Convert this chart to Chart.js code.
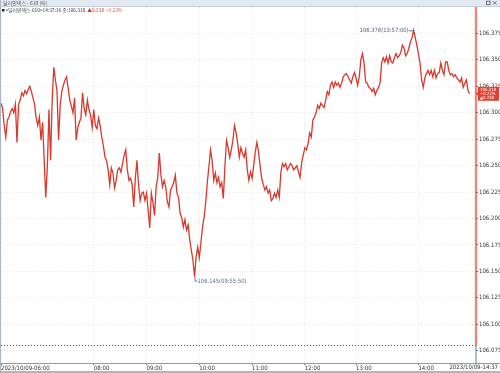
<!DOCTYPE html>
<html>
<head>
<meta charset="utf-8">
<script src="https://cdn.jsdelivr.net/npm/chart.js@4.4.1/dist/chart.umd.min.js"></script>
<style>
    html, body { margin: 0; padding: 0; background: #fff; }
    #wrap { position: relative; width: 500px; height: 373px; }
</style>
</head>
<body>
<div id="wrap"><canvas id="tickChart" width="500" height="373"></canvas></div>
<script>
// 달러인덱스 tick prices, one array per hour block
const seg0600 = [106.309, 106.304, 106.288, 106.277, 106.293, 106.296, 106.301, 106.304, 106.300, 106.308,
    106.272, 106.308, 106.312, 106.319, 106.316, 106.321, 106.318, 106.322, 106.325, 106.320,
    106.314, 106.308, 106.295, 106.288, 106.296, 106.274, 106.291, 106.255, 106.220, 106.250,
    106.303, 106.255, 106.312, 106.343, 106.331, 106.321, 106.274, 106.307, 106.320, 106.326,
    106.331, 106.334, 106.323, 106.312, 106.306, 106.300, 106.314, 106.274, 106.286, 106.291,
    106.295, 106.319, 106.304, 106.298, 106.312, 106.303, 106.298, 106.286];
const seg0800 = [106.303, 106.288, 106.285, 106.295, 106.288, 106.277, 106.269, 106.258, 106.255, 106.246,
    106.232, 106.248, 106.243, 106.229, 106.236, 106.246, 106.248, 106.244, 106.252, 106.260,
    106.265, 106.246, 106.236, 106.238, 106.232, 106.211, 106.238, 106.255, 106.232, 106.217,
    106.224, 106.225, 106.217];
const seg0900 = [106.224, 106.208, 106.191, 106.224, 106.215, 106.203, 106.230, 106.239, 106.262, 106.241,
    106.230, 106.236, 106.230, 106.216, 106.211, 106.227, 106.230, 106.234, 106.241, 106.224,
    106.220, 106.205, 106.201, 106.192, 106.199, 106.189, 106.194, 106.180, 106.170, 106.161,
    106.145, 106.164, 106.173];
const seg1000 = [106.163, 106.177, 106.192, 106.201, 106.215, 106.234, 106.249, 106.265, 106.255, 106.236,
    106.243, 106.234, 106.239, 106.230, 106.234, 106.219, 106.249, 106.274, 106.267, 106.258,
    106.265, 106.274, 106.288, 106.281, 106.271, 106.258, 106.267, 106.262, 106.258, 106.265,
    106.246, 106.236, 106.244];
const seg1100 = [106.238, 106.250, 106.263, 106.272, 106.263, 106.250, 106.238, 106.232, 106.227, 106.230,
    106.224, 106.227, 106.217, 106.219, 106.224, 106.220, 106.227, 106.220, 106.244, 106.252,
    106.249, 106.252, 106.246, 106.249, 106.252, 106.250, 106.246, 106.248, 106.250, 106.244,
    106.239, 106.253, 106.260];
const seg1200 = [106.267, 106.265, 106.271, 106.281, 106.277, 106.293, 106.296, 106.300, 106.307, 106.304,
    106.309, 106.307, 106.305, 106.312, 106.320, 106.317, 106.326, 106.329, 106.324, 106.329,
    106.326, 106.328, 106.324, 106.328, 106.334, 106.336, 106.337, 106.334, 106.331, 106.328,
    106.334, 106.338];
const seg1300 = [106.333, 106.326, 106.334, 106.350, 106.356, 106.347, 106.329, 106.328, 106.324, 106.323,
    106.320, 106.323, 106.317, 106.321, 106.324, 106.328, 106.347, 106.352, 106.348, 106.353,
    106.347, 106.354, 106.348, 106.347, 106.352, 106.356, 106.352, 106.354, 106.357, 106.364,
    106.361, 106.354, 106.356, 106.361, 106.367, 106.371, 106.378, 106.371, 106.364];
const seg1400 = [106.356, 106.347, 106.331, 106.324, 106.333, 106.337, 106.340, 106.336, 106.340, 106.334,
    106.340, 106.333, 106.337, 106.338, 106.347, 106.340, 106.336, 106.348, 106.348, 106.340,
    106.336, 106.337, 106.334, 106.336, 106.333, 106.331, 106.329, 106.333, 106.324, 106.328,
    106.331, 106.321, 106.318];

const hourLabels = ['2023/10/09-06:00', '08:00', '09:00', '10:00', '11:00', '12:00', '13:00', '14:00'];
const endLabel = '2023/10/09-14:37';
const yTicks = [106.075, 106.100, 106.125, 106.150, 106.175, 106.200, 106.225,
    106.250, 106.275, 106.300, 106.325, 106.350, 106.375];

const seriesName = '달러인덱스-610';
const windowTitle = '달러인덱스 - 610 (틱)';
const lastTime = '14:37:16';
const prevClose = 106.080;
const maxTime = '13:57:00';
const minTime = '09:55:50';

const segments = [seg0600, seg0800, seg0900, seg1000, seg1100, seg1200, seg1300, seg1400];
const prices = segments.flat();
const hourIdx = [];
segments.reduce((start, seg) => { hourIdx.push(start); return start + seg.length; }, 0);

const lastPrice = prices[prices.length - 1];
const change = lastPrice - prevClose;
const changePct = change / prevClose * 100;

const numFont = "'Liberation Sans Narrow', 'DejaVu Sans Condensed', 'Liberation Sans', sans-serif";
const krFont = "'Noto Sans CJK KR', 'Noto Sans', sans-serif";
const lineRed = '#d8392b';

Chart.defaults.font.family = numFont;
Chart.defaults.font.size = 6;
Chart.defaults.color = '#333';

// frame, annotations and header texts
const decor = {
    id: 'decor',
    beforeDraw(chart) {
        const { ctx, width, height } = chart;
        ctx.save();
        ctx.fillStyle = '#fff';
        ctx.fillRect(0, 0, width, height);
        ctx.restore();
    },
    afterDatasetsDraw(chart) {
        const { ctx, chartArea: a, scales: { x, y } } = chart;
        ctx.save();

        // previous close dotted line
        const yp = Math.round(y.getPixelForValue(prevClose)) + 0.5;
        ctx.strokeStyle = '#555';
        ctx.lineWidth = 1;
        ctx.setLineDash([1, 2]);
        ctx.beginPath(); ctx.moveTo(a.left, yp); ctx.lineTo(a.right, yp); ctx.stroke();
        ctx.setLineDash([]);

        // current time line
        ctx.strokeStyle = 'rgba(220, 70, 60, 0.25)';
        ctx.lineWidth = 3;
        ctx.beginPath(); ctx.moveTo(a.right, a.top); ctx.lineTo(a.right, yp); ctx.stroke();
        ctx.strokeStyle = '#d2402f';
        ctx.lineWidth = 1;
        ctx.beginPath(); ctx.moveTo(a.right, a.top); ctx.lineTo(a.right, yp); ctx.stroke();
        ctx.strokeStyle = '#5d7fa8';
        ctx.beginPath(); ctx.moveTo(a.right, yp); ctx.lineTo(a.right, a.bottom); ctx.stroke();

        // max / min labels
        const iMax = prices.indexOf(Math.max(...prices));
        const iMin = prices.indexOf(Math.min(...prices));
        const mx = x.getPixelForValue(iMax), my = y.getPixelForValue(prices[iMax]);
        const nx = x.getPixelForValue(iMin), ny = y.getPixelForValue(prices[iMin]);
        ctx.font = '5.8px ' + numFont;
        ctx.textBaseline = 'middle';

        ctx.strokeStyle = '#6a7388';
        ctx.beginPath(); ctx.moveTo(mx - 5, my + 0.5); ctx.lineTo(mx, my + 0.5); ctx.stroke();
        ctx.fillStyle = '#5c6275';
        ctx.textAlign = 'right';
        ctx.fillText(prices[iMax].toFixed(3) + '(' + maxTime + ')', mx - 5, my + 0.5);

        ctx.strokeStyle = '#6a7ca0';
        ctx.beginPath(); ctx.moveTo(nx + 0.5, ny); ctx.lineTo(nx + 0.5, ny + 4.5); ctx.lineTo(nx + 3, ny + 4.5); ctx.stroke();
        ctx.fillStyle = '#5f7196';
        ctx.textAlign = 'left';
        ctx.fillText(prices[iMin].toFixed(3) + '(' + minTime + ')', nx + 3, ny + 4.5);

        // current price box on the axis
        const py = y.getPixelForValue(lastPrice);
        ctx.fillStyle = '#e0402e';
        ctx.beginPath();
        ctx.moveTo(a.right, py);
        ctx.lineTo(a.right + 2, py - 2);
        ctx.lineTo(a.right + 2, py - 7);
        ctx.lineTo(499, py - 7);
        ctx.lineTo(499, py + 7);
        ctx.lineTo(a.right + 2, py + 7);
        ctx.lineTo(a.right + 2, py + 2);
        ctx.closePath();
        ctx.fill();
        ctx.fillStyle = '#fff';
        ctx.font = '4.3px ' + numFont;
        ctx.textAlign = 'left';
        ctx.fillText(lastPrice.toFixed(3), a.right + 4, py - 4);
        ctx.fillText('+' + changePct.toFixed(2) + '%', a.right + 4, py);
        ctx.fillText('▲' + change.toFixed(3), a.right + 4, py + 4);
        ctx.restore();
    },
    afterDraw(chart) {
        const { ctx, width, height, chartArea: a } = chart;
        ctx.save();

        // window title bar
        ctx.fillStyle = '#e3e9f0';
        ctx.fillRect(0, 0, width, 6);
        ctx.fillStyle = '#c6d0dc';
        ctx.fillRect(0, 6, width, 1);
        ctx.font = '5px ' + krFont;
        ctx.textBaseline = 'middle';
        ctx.fillStyle = '#555';
        ctx.fillText(windowTitle, 3, 3.2);
        ctx.strokeStyle = '#556';
        ctx.lineWidth = 0.8;
        ctx.strokeRect(486.5, 1.2, 3.5, 3.5);
        ctx.beginPath();
        ctx.moveTo(493, 1.2); ctx.lineTo(496.5, 4.7);
        ctx.moveTo(496.5, 1.2); ctx.lineTo(493, 4.7);
        ctx.stroke();

        // legend line
        let tx = 2;
        const ty = 10.5;
        ctx.fillStyle = '#222';
        ctx.fillRect(tx, ty - 1.5, 2.5, 2.5);
        tx += 3.5;
        const head = '<' + seriesName + '>' + lastTime + ' 종:' + lastPrice.toFixed(3);
        ctx.font = '4.8px ' + krFont;
        ctx.fillStyle = '#333';
        ctx.fillText(head, tx, ty);
        tx += ctx.measureText(head).width + 2;
        ctx.fillStyle = '#d23a2a';
        const chg = '▲' + change.toFixed(3);
        ctx.fillText(chg, tx, ty);
        tx += ctx.measureText(chg).width + 2;
        ctx.fillStyle = '#d85a4c';
        ctx.fillText('+' + changePct.toFixed(2) + '%', tx, ty);

        // frame lines
        ctx.fillStyle = '#a9b8c9';
        ctx.fillRect(0, 0, 1, height);
        ctx.fillStyle = '#9a9a9a';
        ctx.fillRect(0, a.bottom, width, 1);
        ctx.fillStyle = '#b5b5b5';
        ctx.fillRect(0, height - 2, width, 2);

        // end time label
        ctx.font = '6px ' + numFont;
        ctx.fillStyle = '#333';
        ctx.textAlign = 'right';
        ctx.fillText(endLabel, 498, a.bottom + 4.8);
        ctx.restore();
    }
};

document.addEventListener('DOMContentLoaded', () => {
    const ctx = document.getElementById('tickChart').getContext('2d');
    new Chart(ctx, {
        type: 'line',
        data: {
            datasets: [{
                label: seriesName,
                data: prices.map((v, i) => ({ x: i, y: v })),
                borderColor: lineRed,
                borderWidth: 1.3,
                pointRadius: 0,
                tension: 0
            }]
        },
        options: {
            responsive: false,
            animation: false,
            events: [],
            layout: { padding: { top: 7, left: 1, right: 0, bottom: 0 } },
            plugins: {
                legend: { display: false },
                tooltip: { enabled: false }
            },
            scales: {
                x: {
                    type: 'linear',
                    min: 0,
                    max: 297,
                    afterBuildTicks: scale => { scale.ticks = hourIdx.map(v => ({ value: v })); },
                    afterFit: scale => { scale.height = 10; },
                    ticks: {
                        align: 'start',
                        autoSkip: false,
                        maxRotation: 0,
                        padding: 0,
                        color: '#333',
                        callback: (value, index) => hourLabels[index]
                    },
                    grid: { color: '#e6e6e6', tickLength: 2, tickColor: '#777' },
                    border: { display: false, dash: [1, 2] }
                },
                y: {
                    position: 'right',
                    min: 106.0634,
                    max: 106.4,
                    afterBuildTicks: scale => { scale.ticks = yTicks.map(v => ({ value: v })); },
                    afterFit: scale => { scale.width = 24; },
                    ticks: {
                        padding: 1,
                        color: '#333',
                        callback: value => value.toFixed(3)
                    },
                    grid: { color: '#e8e8e8', tickLength: 2, tickColor: '#777' },
                    border: { display: false, dash: [1, 2] }
                }
            }
        },
        plugins: [decor]
    });
});
</script>
</body>
</html>
